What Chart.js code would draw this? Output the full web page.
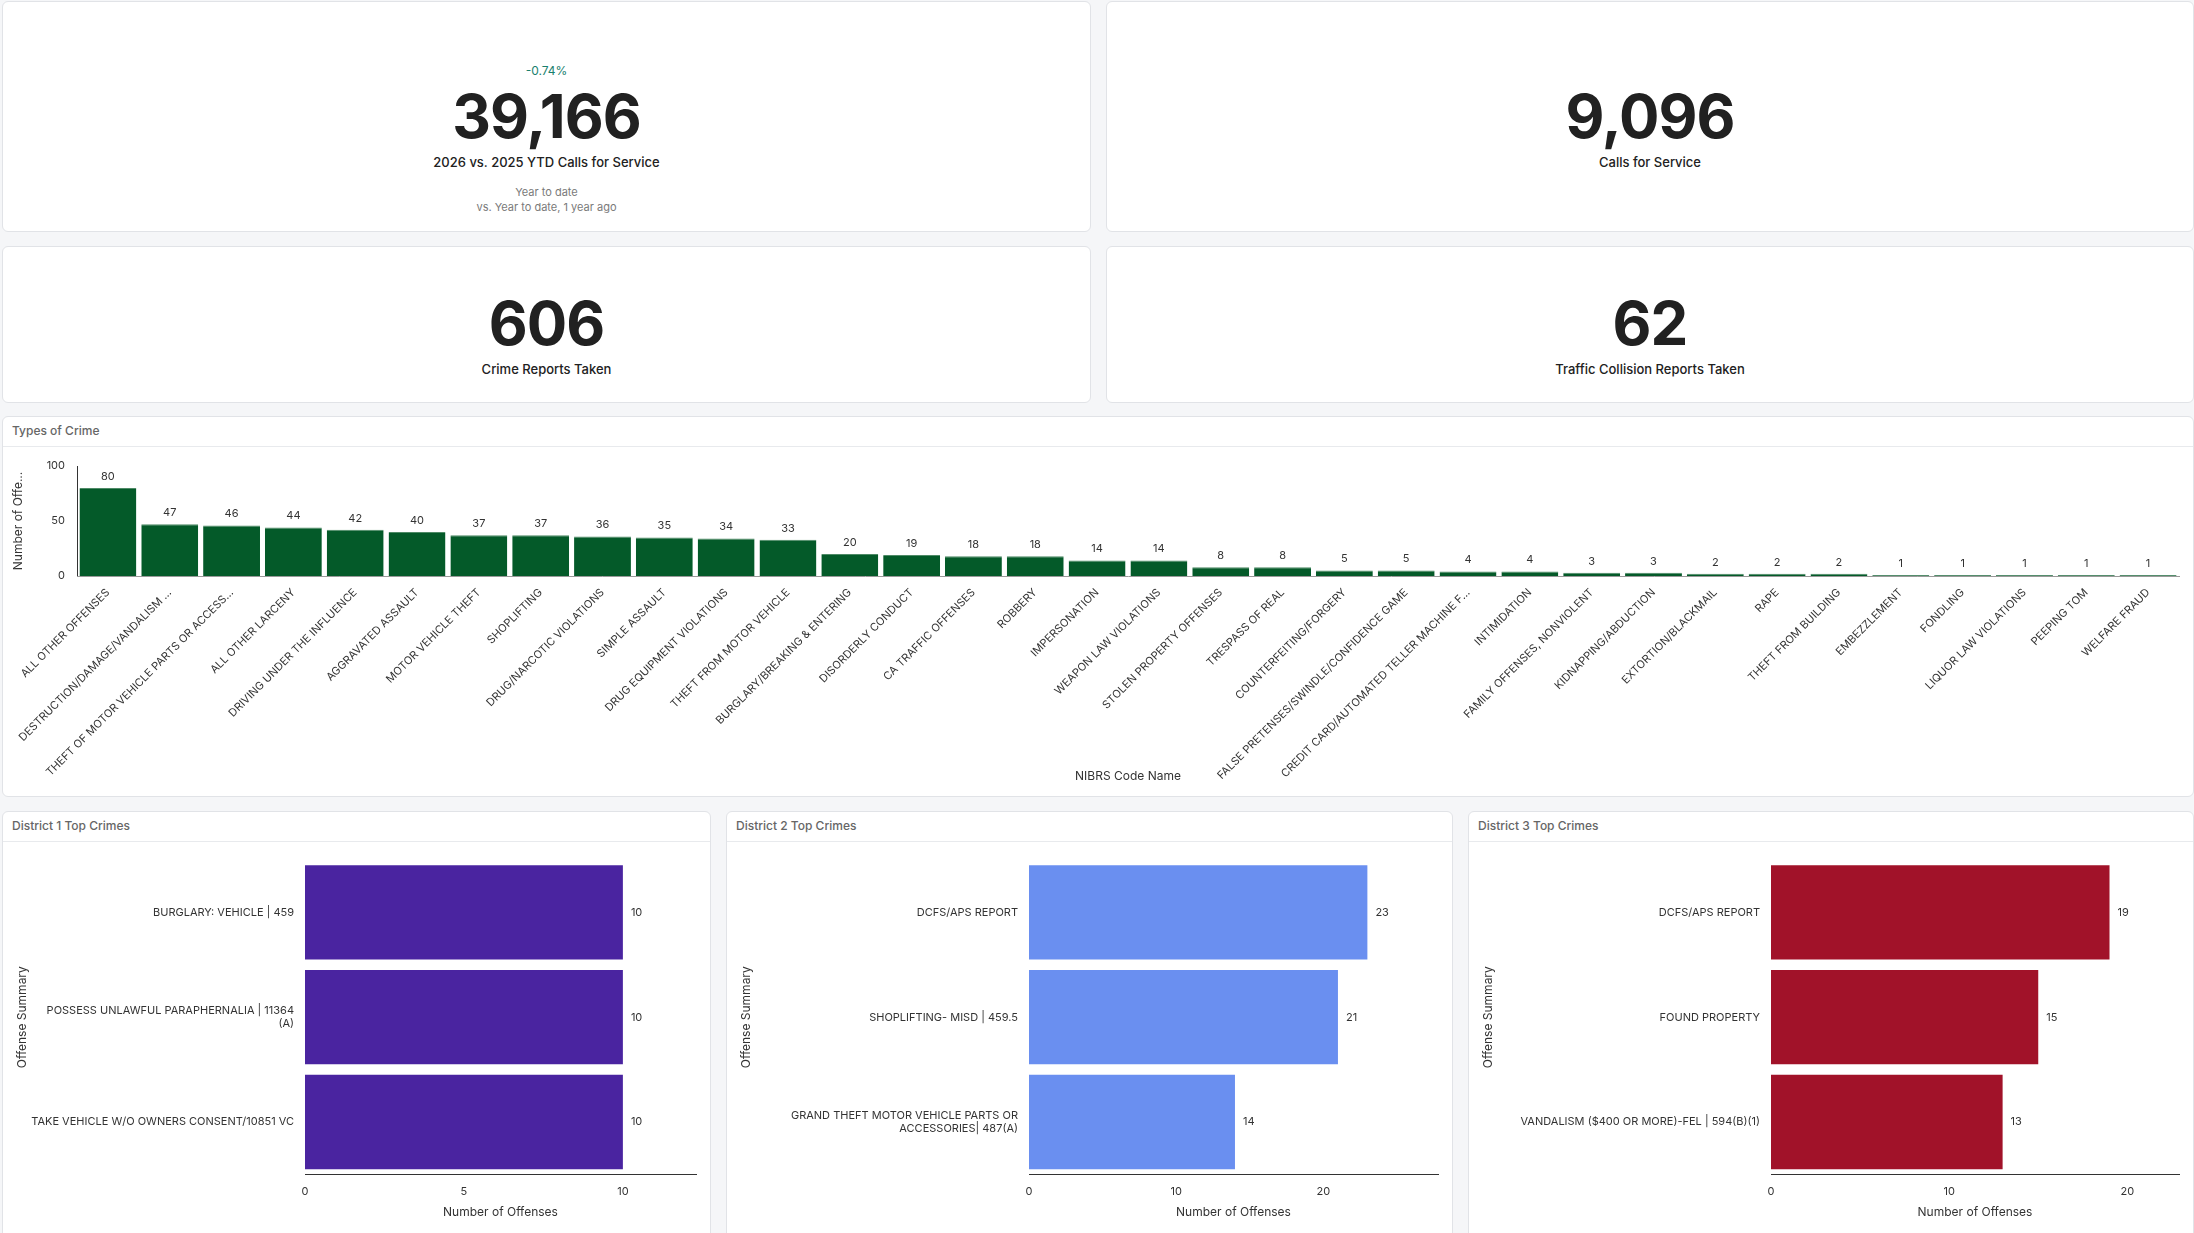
<!DOCTYPE html>
<html>
<head>
<meta charset="utf-8">
<script src="https://cdn.jsdelivr.net/npm/chart.js@4.4.1/dist/chart.umd.min.js"></script>
<style>
  body { margin: 0; width: 2194px; height: 1233px; background: #f5f6f8; font-family: Inter, "Noto Sans", sans-serif; overflow: hidden; position: relative; }
  .card { position: absolute; background: #fff; border: 1px solid #e1e3e7; border-radius: 6px; box-sizing: border-box; overflow: hidden; }
  .kpi { text-align: center; color: #212121; }
  .big { font-size: 60px; font-weight: 700; letter-spacing: -1px; line-height: 1; position: absolute; width: 100%; }
  .lbl { font-size: 13px; font-weight: 500; position: absolute; width: 100%; }
  .sub { font-size: 11px; color: #7a7a7a; position: absolute; width: 100%; }
  .head { height: 30px; border-bottom: 1px solid #e8eaed; font-size: 12px; font-weight: 500; color: #666; padding: 6px 0 0 9px; box-sizing: border-box; }
  .cv { position: absolute; left: 0; right: 0; top: 31px; bottom: 0; }
</style>
</head>
<body>
<div class="card kpi" style="left:2px;top:1px;width:1089px;height:231px">
  <div class="sub" style="top:61px;color:#1a7f6e;font-size:12px">-0.74%</div>
  <div class="big" style="top:84px">39,166</div>
  <div class="lbl" style="top:152px">2026 vs. 2025 YTD Calls for Service</div>
  <div class="sub" style="top:183px">Year to date</div>
  <div class="sub" style="top:198px">vs. Year to date, 1 year ago</div>
</div>
<div class="card kpi" style="left:1106px;top:1px;width:1088px;height:231px">
  <div class="big" style="top:84px">9,096</div>
  <div class="lbl" style="top:152px">Calls for Service</div>
</div>
<div class="card kpi" style="left:2px;top:246px;width:1089px;height:157px">
  <div class="big" style="top:46px">606</div>
  <div class="lbl" style="top:114px">Crime Reports Taken</div>
</div>
<div class="card kpi" style="left:1106px;top:246px;width:1088px;height:157px">
  <div class="big" style="top:46px">62</div>
  <div class="lbl" style="top:114px">Traffic Collision Reports Taken</div>
</div>

<div class="card" style="left:2px;top:416px;width:2192px;height:381px">
  <div class="head">Types of Crime</div>
  <div class="cv"><canvas id="typesChart"></canvas></div>
</div>
<div class="card" style="left:2px;top:811px;width:709px;height:430px">
  <div class="head">District 1 Top Crimes</div>
  <div class="cv"><canvas id="d1Chart"></canvas></div>
</div>
<div class="card" style="left:726px;top:811px;width:727px;height:430px">
  <div class="head">District 2 Top Crimes</div>
  <div class="cv"><canvas id="d2Chart"></canvas></div>
</div>
<div class="card" style="left:1468px;top:811px;width:726px;height:430px">
  <div class="head">District 3 Top Crimes</div>
  <div class="cv"><canvas id="d3Chart"></canvas></div>
</div>

<script>
const crimeTypes = ["ALL OTHER OFFENSES", "DESTRUCTION/DAMAGE/VANDALISM ...", "THEFT OF MOTOR VEHICLE PARTS OR ACCESS...",
  "ALL OTHER LARCENY", "DRIVING UNDER THE INFLUENCE", "AGGRAVATED ASSAULT", "MOTOR VEHICLE THEFT", "SHOPLIFTING",
  "DRUG/NARCOTIC VIOLATIONS", "SIMPLE ASSAULT", "DRUG EQUIPMENT VIOLATIONS", "THEFT FROM MOTOR VEHICLE",
  "BURGLARY/BREAKING & ENTERING", "DISORDERLY CONDUCT", "CA TRAFFIC OFFENSES", "ROBBERY", "IMPERSONATION",
  "WEAPON LAW VIOLATIONS", "STOLEN PROPERTY OFFENSES", "TRESPASS OF REAL", "COUNTERFEITING/FORGERY",
  "FALSE PRETENSES/SWINDLE/CONFIDENCE GAME", "CREDIT CARD/AUTOMATED TELLER MACHINE F...", "INTIMIDATION",
  "FAMILY OFFENSES, NONVIOLENT", "KIDNAPPING/ABDUCTION", "EXTORTION/BLACKMAIL", "RAPE", "THEFT FROM BUILDING",
  "EMBEZZLEMENT", "FONDLING", "LIQUOR LAW VIOLATIONS", "PEEPING TOM", "WELFARE FRAUD"];
const crimeCounts = [80, 47, 46, 44, 42, 40, 37, 37, 36, 35, 34, 33, 20, 19, 18, 18, 14, 14, 8, 8, 5, 5, 4, 4, 3, 3, 2, 2, 2, 1, 1, 1, 1, 1];
const crimeTicks = [0, 50, 100];

const d1Labels = ["BURGLARY: VEHICLE | 459", ["POSSESS UNLAWFUL PARAPHERNALIA | 11364", "(A)"], "TAKE VEHICLE W/O OWNERS CONSENT/10851 VC"];
const d1Values = [10, 10, 10];
const d2Labels = ["DCFS/APS REPORT", "SHOPLIFTING- MISD | 459.5", ["GRAND THEFT MOTOR VEHICLE PARTS OR", "ACCESSORIES| 487(A)"]];
const d2Values = [23, 21, 14];
const d3Labels = ["DCFS/APS REPORT", "FOUND PROPERTY", "VANDALISM ($400 OR MORE)-FEL | 594(B)(1)"];
const d3Values = [19, 15, 13];

Chart.defaults.font.family = "Inter, 'Noto Sans', sans-serif";
Chart.defaults.color = '#333';

// draws the value next to each bar
const valueLabels = {
    id: 'valueLabels',
    afterDatasetsDraw(chart) {
        const ctx = chart.ctx;
        const horizontal = chart.options.indexAxis === 'y';
        const meta = chart.getDatasetMeta(0);
        ctx.save();
        ctx.font = "11px Inter, sans-serif";
        ctx.fillStyle = '#333';
        meta.data.forEach((bar, i) => {
            const v = chart.data.datasets[0].data[i];
            if (horizontal) {
                ctx.textAlign = 'left'; ctx.textBaseline = 'middle';
                ctx.fillText(v, bar.x + 8, bar.y);
            } else {
                ctx.textAlign = 'center'; ctx.textBaseline = 'bottom';
                ctx.fillText(v, bar.x, bar.y - 6);
            }
        });
        ctx.restore();
    }
};

function axisTitle(text) {
    return {display: true, text: text, color: '#333', font: {size: 12}};
}

new Chart(document.getElementById('typesChart'), {
    type: 'bar',
    plugins: [valueLabels],
    data: {
        labels: crimeTypes,
        datasets: [{data: crimeCounts, backgroundColor: '#045a29', borderColor: '#4e8a66', borderWidth: {top: 1}, barPercentage: 0.92, categoryPercentage: 1}]
    },
    options: {
        responsive: true, maintainAspectRatio: false, animation: false,
        layout: {padding: {top: 18, right: 14, left: 4, bottom: 8}},
        plugins: {legend: {display: false}, tooltip: {enabled: false}},
        scales: {
            y: {
                min: 0, max: 100,
                afterBuildTicks: s => { s.ticks = crimeTicks.map(v => ({value: v})); },
                grid: {display: false}, border: {color: '#333'},
                ticks: {font: {size: 11}, padding: 4},
                title: axisTitle('Number of Offe...'),
                afterFit: s => { s.width = 70; }
            },
            x: {
                grid: {display: false}, border: {color: '#999'},
                ticks: {autoSkip: false, minRotation: 45, maxRotation: 45, font: {size: 11}, padding: 2},
                title: axisTitle('NIBRS Code Name'),
                afterFit: s => { s.height = 212; }
            }
        }
    }
});

function districtChart(id, labels, values, color, max, step) {
    new Chart(document.getElementById(id), {
        type: 'bar',
        plugins: [valueLabels],
        data: {
            labels: labels,
            datasets: [{data: values, backgroundColor: color, barPercentage: 0.9, categoryPercentage: 1}]
        },
        options: {
            indexAxis: 'y',
            responsive: true, maintainAspectRatio: false, animation: false,
            layout: {padding: {top: 17, right: 14, left: 8, bottom: 16}},
            plugins: {legend: {display: false}, tooltip: {enabled: false}},
            scales: {
                x: {
                    min: 0, max: max,
                    afterBuildTicks: s => { s.ticks = s.ticks.filter(t => t.value % step === 0); },
                    ticks: {stepSize: step, font: {size: 11}},
                    grid: {display: false, drawTicks: true}, border: {color: '#333'},
                    title: axisTitle('Number of Offenses')
                },
                y: {
                    grid: {display: false}, border: {display: false},
                    ticks: {font: {size: 11}, color: '#333'},
                    title: axisTitle('Offense Summary'),
                    afterFit: s => { s.width = 294; }
                }
            }
        }
    });
}

districtChart('d1Chart', d1Labels, d1Values, '#4a24a0', 12.3, 5);
districtChart('d2Chart', d2Labels, d2Values, '#6a8ff0', 27.8, 10);
districtChart('d3Chart', d3Labels, d3Values, '#a11229', 22.9, 10);
</script>
</body>
</html>
